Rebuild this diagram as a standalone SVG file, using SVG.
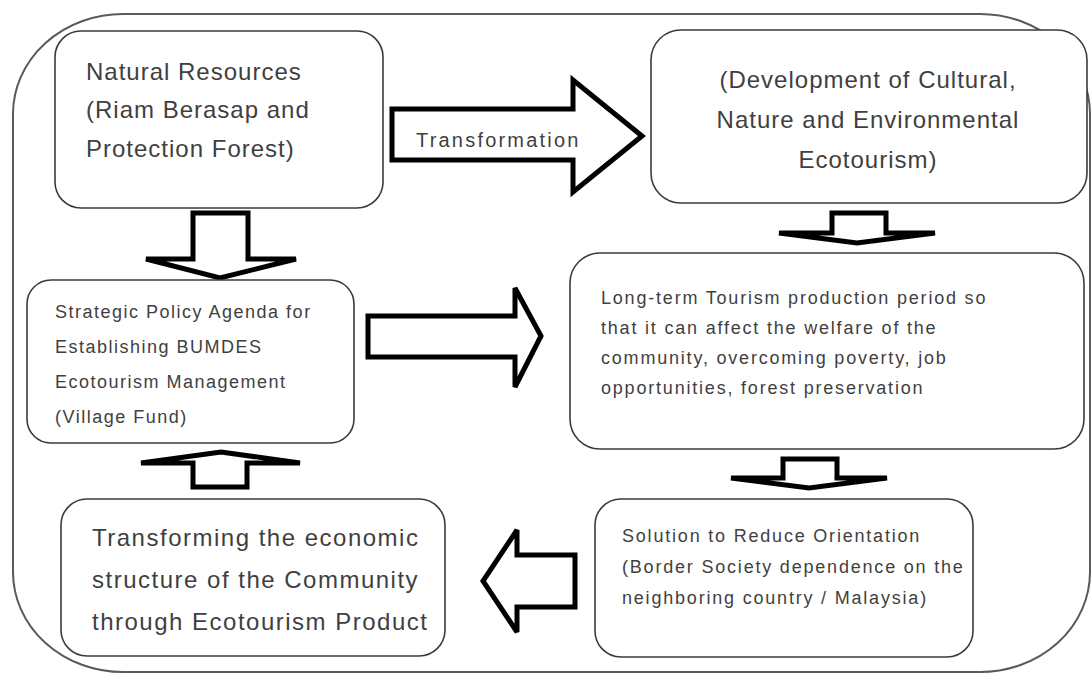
<svg xmlns="http://www.w3.org/2000/svg" width="1091" height="675" viewBox="0 0 1091 675">
  <style>
    .box { fill: #ffffff; stroke: #3a3a3a; stroke-width: 1.6; }
    .arrow { fill: #ffffff; stroke: #000000; stroke-width: 5; stroke-linejoin: miter; stroke-miterlimit: 3; }
    .big { font-family: "Liberation Sans", Arial, sans-serif; font-size: 24px; letter-spacing: 1px; fill: #3f3f3f; }
    .small { font-family: "Liberation Sans", Arial, sans-serif; font-size: 18px; letter-spacing: 1.8px; fill: #3f3f3f; }
    .label { font-family: "Liberation Sans", Arial, sans-serif; font-size: 20px; letter-spacing: 2.2px; fill: #3f3f3f; }
  </style>
  <rect width="1091" height="675" fill="#ffffff"/>
  <rect id="frame" x="13" y="14" width="1077" height="658" rx="110" ry="100" fill="none" stroke="#5a5a5a" stroke-width="2"/>

  <g id="connectors">
    <polygon class="arrow" points="392,109 573,109 573,80 642,136 573,192 573,160 392,160"/>
    <text class="label" x="416" y="147">Transformation</text>
    <polygon class="arrow" points="193,213 248,213 248,259 296,259 220,278 146,259 193,259"/>
    <polygon class="arrow" points="368,316 515,316 515,288 541,336 515,387 515,357 368,357"/>
    <polygon class="arrow" points="832,213 886,213 886,233 935,233 857,243 779,233 832,233"/>
    <polygon class="arrow" points="783,459 837,459 837,478 887,478 809,488 731,478 783,478"/>
    <polygon class="arrow" points="193,487 247,487 247,463 300,463 221,452 141,463 193,463"/>
    <polygon class="arrow" points="575,555 575,607 517,607 517,632 483,581 517,530 517,555"/>
  </g>

  <g id="natural-resources">
    <rect class="box" x="55" y="31" width="328" height="177" rx="26"/>
    <text class="big" x="86" y="80">Natural Resources</text>
    <text class="big" x="86" y="118">(Riam Berasap and</text>
    <text class="big" x="86" y="157">Protection Forest)</text>
  </g>

  <g id="development">
    <rect class="box" x="651" y="30" width="436" height="173" rx="30"/>
    <text class="big" x="868" y="88" text-anchor="middle">(Development of Cultural,</text>
    <text class="big" x="868" y="128" text-anchor="middle">Nature and Environmental</text>
    <text class="big" x="868" y="168" text-anchor="middle">Ecotourism)</text>
  </g>

  <g id="strategic-policy">
    <rect class="box" x="27" y="280" width="327" height="163" rx="24"/>
    <text class="small" x="55" y="318" style="letter-spacing:1.5px">Strategic Policy Agenda for</text>
    <text class="small" x="55" y="353" style="letter-spacing:1.5px">Establishing BUMDES</text>
    <text class="small" x="55" y="388" style="letter-spacing:1.5px">Ecotourism Management</text>
    <text class="small" x="55" y="423" style="letter-spacing:1.5px">(Village Fund)</text>
  </g>

  <g id="long-term">
    <rect class="box" x="570" y="253" width="514" height="196" rx="30"/>
    <text class="small" x="601" y="304">Long-term Tourism production period so</text>
    <text class="small" x="601" y="334">that it can affect the welfare of the</text>
    <text class="small" x="601" y="364">community, overcoming poverty, job</text>
    <text class="small" x="601" y="394">opportunities,  forest preservation</text>
  </g>

  <g id="solution">
    <rect class="box" x="595" y="499" width="378" height="158" rx="26"/>
    <text class="small" x="622" y="542">Solution to Reduce Orientation</text>
    <text class="small" x="622" y="573">(Border Society dependence on the</text>
    <text class="small" x="622" y="604">neighboring country / Malaysia)</text>
  </g>

  <g id="transforming">
    <rect class="box" x="61" y="499" width="384" height="157" rx="26"/>
    <text class="big" x="92" y="546" style="letter-spacing:1.5px">Transforming the economic</text>
    <text class="big" x="92" y="588" style="letter-spacing:1.5px">structure of the Community</text>
    <text class="big" x="92" y="630" style="letter-spacing:1.5px">through Ecotourism Product</text>
  </g>
</svg>
